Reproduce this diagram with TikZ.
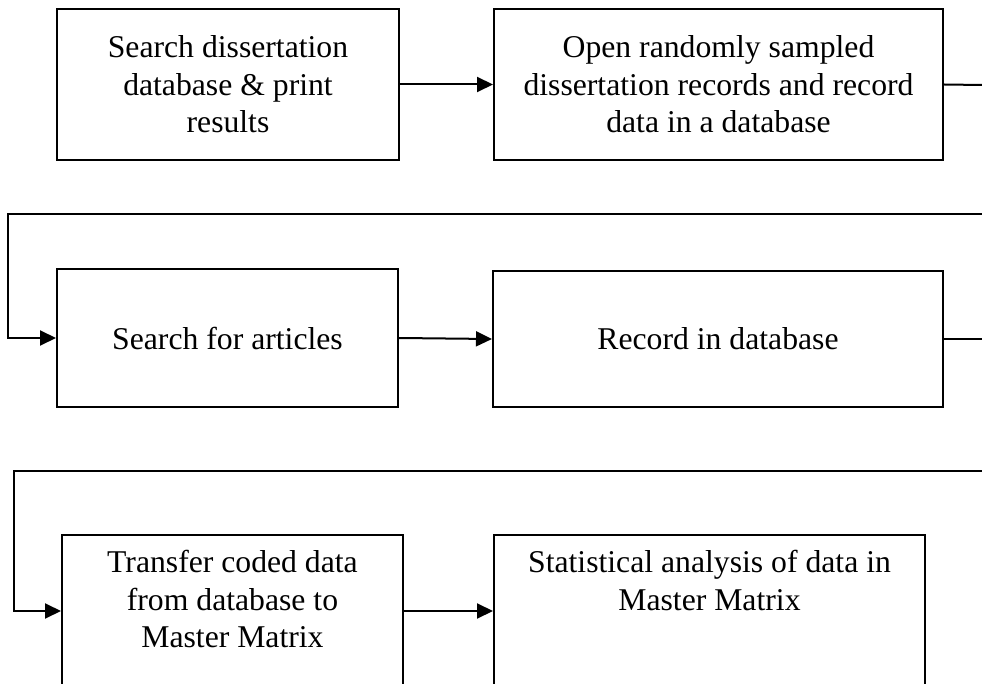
\documentclass[tikz,border=0pt]{standalone}
\usepackage{fontspec}
\setmainfont{Liberation Serif}
\usetikzlibrary{arrows.meta,positioning}
\tikzset{box/.style=
	{draw,
		rectangle,
		line width=2pt,
		inner sep=0pt,
		align=center,
		font=\fontsize{31.7}{37.5}\selectfont},
	boxtext/.style={inner sep=0pt, align=center, anchor=north, font=\fontsize{31.7}{37.5}\selectfont},
	flow arrow/.style={-{Triangle[length=16pt,width=15pt]}, line width=2pt},
	flow line/.style={line width=2pt},
}

\begin{document}
\begin{tikzpicture}[x=1pt,y=-1pt,line join=miter]
			\useasboundingbox (0,0) rectangle (982,684);
			\clip (0,0) rectangle (982,684);
			
			% first row
			\node[box, minimum width=342pt, minimum height=151pt] (search) at (228,84.5) {Search dissertation\\database \& print\\results};
			\node[box, minimum width=449pt, minimum height=151pt] (open) at (718.5,84.5) {Open randomly sampled\\dissertation records and record\\data in a database};
			
			% second row
			\node[box, minimum width=341pt, minimum height=138pt] (articles) at (227.5,338) {Search for articles};
			\node[box, minimum width=450pt, minimum height=136pt] (record) at (718,339) {Record in database};
			
			% third row, cut off at the bottom
			\node[box, minimum width=341pt, minimum height=152pt] (transfer) at (232.5,611) {};
			\node[boxtext, below=16pt of transfer.north] (transfertxt) {Transfer coded data\\from database to\\Master Matrix};
			\node[box, minimum width=431pt, minimum height=152pt] (stats) at (709.5,611) {};
			\node[boxtext, below=16pt of stats.north] (statstxt) {Statistical analysis of data in\\Master Matrix};
			
			\coordinate (out1) at (982,85);
			\coordinate (in2) at (982,214);
			\coordinate (turn2) at (8,214);
			\coordinate (out2) at (982,339);
			\coordinate (in3) at (982,471);
			\coordinate (turn3) at (14,471);
			
			\draw[flow arrow] (search) -- (open);
			\draw[flow line] (open.east) -- (out1);
			\draw[flow arrow] (in2) -- (turn2) |- (articles.west);
			\draw[flow arrow] (articles.east) -- (record.west);
			\draw[flow line] (record.east) -- (out2);
			\draw[flow arrow] (in3) -- (turn3) |- (transfer.west);
			\draw[flow arrow] (transfer) -- (stats);
		\end{tikzpicture}
\end{document}
